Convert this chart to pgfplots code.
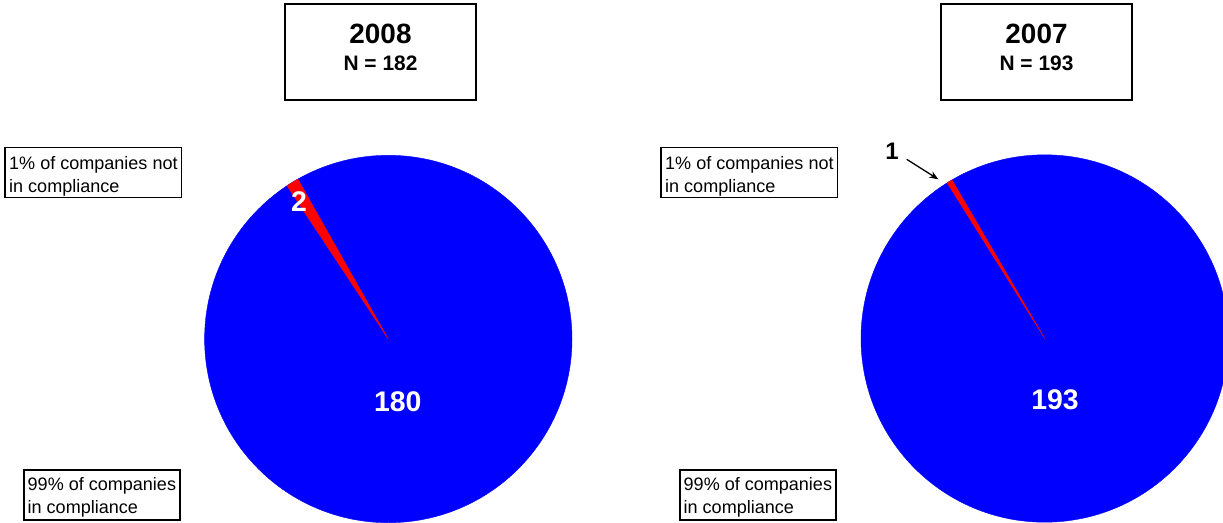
\documentclass[border=0pt]{standalone}
\usepackage{fontspec}
\setmainfont{Liberation Sans}
\usepackage{pgfplots}
\pgfplotsset{compat=1.18}
\usetikzlibrary{arrows.meta}

% pie style shared by both years
\pgfplotsset{pie/.style={
    scale only axis, width=367.4bp, height=367.4bp,
    xmin=-1, xmax=1, ymin=-1, ymax=1,
    hide axis, clip=false, anchor=center}}

\newcommand{\bignum}{\bfseries\fontsize{28.5}{30}\selectfont}
\newcommand{\lab}{\fontsize{18.1}{22}\selectfont}

\begin{document}
\begin{tikzpicture}
\path[use as bounding box, clip] (0bp,0bp) rectangle (1223bp,-523bp);

% ---- 2008: 180 in compliance, 2 not
\begin{axis}[pie, at={(388.3bp,-339bp)}]
  \addplot[only marks, mark=*, mark size=183.7bp, color=blue] coordinates {(0,0)};
\end{axis}
\begin{axis}[pie, at={(388.3bp,-339bp)}]
  % slice of 2 out of 182, from 119.5 to 123.5 degrees
  \addplot[fill=red, draw=red, line width=0.3bp, mark=none] coordinates {
    (0,0) (-0.4924,0.8704) (-0.5225,0.8526) (-0.5519,0.8339) (0,0)};
\end{axis}

% ---- 2007: 193 in compliance, 1 not
\begin{axis}[pie, at={(1044.7bp,-338.5bp)}]
  \addplot[only marks, mark=*, mark size=183.7bp, color=blue] coordinates {(0,0)};
\end{axis}
\begin{axis}[pie, at={(1044.7bp,-338.5bp)}]
  % slice of 1 out of 194, from 120.3 to 122.1 degrees
  \addplot[fill=red, draw=red, line width=0.3bp, mark=none] coordinates {
    (0,0) (-0.5045,0.8634) (-0.5180,0.8554) (-0.5314,0.8471) (0,0)};
\end{axis}

% title boxes
\foreach \dx/\yr/\n in {0/2008/182, 656/2007/193} {
  \draw[line width=2bp] (\dx bp+285bp,-4bp) rectangle (\dx bp+476bp,-100bp);
  \node[font=\bfseries\fontsize{28}{30}\selectfont] at (\dx bp+380.5bp,-33.5bp) {\yr};
  \node[font=\bfseries\fontsize{21}{24}\selectfont] at (\dx bp+380.5bp,-63bp) {N = \n};
  % label boxes
  \draw[line width=1.2bp] (\dx bp+5bp,-147.5bp) rectangle (\dx bp+181.5bp,-197.5bp);
  \node[font=\lab, anchor=base west, inner sep=0pt] at (\dx bp+9bp,-169.3bp) {1\% of companies not};
  \node[font=\lab, anchor=base west, inner sep=0pt] at (\dx bp+9bp,-192bp) {in compliance};
  \draw[line width=1.2bp] (\dx bp+24bp,-470bp) rectangle (\dx bp+180bp,-520bp);
  \node[font=\lab, anchor=base west, inner sep=0pt] at (\dx bp+27.5bp,-490.7bp) {99\% of companies};
  \node[font=\lab, anchor=base west, inner sep=0pt] at (\dx bp+27.5bp,-513.3bp) {in compliance};
}

% values on the slices
\node[font=\bignum, text=white] at (299bp,-202bp) {2};
\node[font=\bignum, text=white] at (397.7bp,-401.5bp) {180};
\node[font=\bignum, text=white] at (1055bp,-400bp) {193};
\node[font=\bfseries\fontsize{24}{28}\selectfont] at (892bp,-151bp) {1};
\draw[line width=1.3bp, -{Stealth[length=9bp, width=7bp]}] (906.7bp,-159.3bp) -- (938.3bp,-179.3bp);
\end{tikzpicture}
\end{document}
